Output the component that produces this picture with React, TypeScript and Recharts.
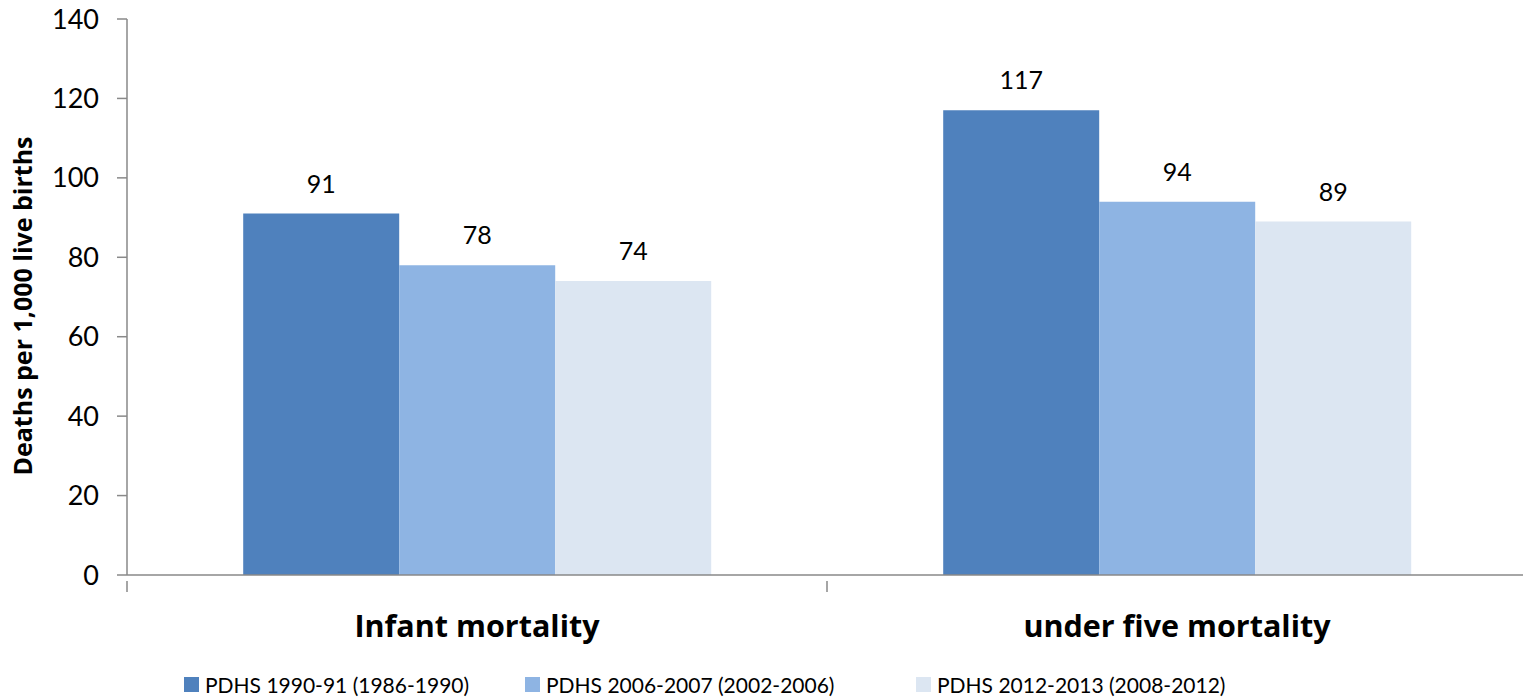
import React from 'react'
import { BarChart, Bar, XAxis, YAxis, Legend, LabelList, Label } from 'recharts'

const categories = ['Infant mortality', 'under five mortality']
const pdhs1990 = [91, 117]
const pdhs2006 = [78, 94]
const pdhs2012 = [74, 89]
const seriesNames = [
  'PDHS 1990-91 (1986-1990)',
  'PDHS 2006-2007 (2002-2006)',
  'PDHS 2012-2013 (2008-2012)',
]
const yTicks = [0, 20, 40, 60, 80, 100, 120, 140]

const COLORS = ['#4F81BD', '#8EB4E3', '#DCE6F2']
const AXIS = '#898989'
const FONT = 'Lato, "Open Sans", sans-serif'
const BOLD_FONT = '"Open Sans", Lato, sans-serif'

const CHART_W = 1528
const CHART_H = 699
const Y_AXIS_W = 127
const MARGIN = { top: 19, right: 1, bottom: 0, left: 0 }
const BAND = (CHART_W - Y_AXIS_W - MARGIN.left - MARGIN.right) / categories.length

const data = categories.map((name, i) => ({
  name,
  s1: pdhs1990[i],
  s2: pdhs2006[i],
  s3: pdhs2012[i],
}))

const legendWidths = [341, 391, 'auto']

function CategoryTick(props: any) {
  const { x, y, payload } = props
  const half = BAND / 2
  return (
    <g>
      {payload.index === 0 && (
        <line x1={x - half} x2={x - half} y1={y} y2={y + 11} stroke={AXIS} strokeWidth={1.5} />
      )}
      <line x1={x + half} x2={x + half} y1={y} y2={y + 11} stroke={AXIS} strokeWidth={1.5} />
      <text
        x={x}
        y={y + 56}
        textAnchor="middle"
        fontFamily={BOLD_FONT}
        fontWeight={700}
        fontSize={30.5}
        fill="#000"
      >
        {payload.value}
      </text>
    </g>
  )
}

function LegendRow() {
  return (
    <div
      style={{
        height: 54,
        paddingTop: 25,
        boxSizing: 'border-box',
        display: 'flex',
        paddingLeft: 184,
        fontFamily: FONT,
        fontSize: 21,
        color: '#000',
        lineHeight: '24px',
      }}
    >
      {seriesNames.map((n, i) => (
        <div key={n} style={{ display: 'flex', alignItems: 'center', width: legendWidths[i] }}>
          <span
            style={{
              display: 'inline-block',
              width: 15,
              height: 15,
              background: COLORS[i],
              marginRight: 6,
            }}
          />
          <span>{n}</span>
        </div>
      ))}
    </div>
  )
}

export default function App() {
  return (
    <div
      style={{
        position: 'absolute',
        left: 0,
        top: 0,
        width: 1523,
        height: 699,
        overflow: 'hidden',
        background: '#fff',
      }}
    >
      <BarChart
        width={CHART_W}
        height={CHART_H}
        data={data}
        margin={MARGIN}
        barCategoryGap="16.6%"
        barGap={0}
      >
        <XAxis
          dataKey="name"
          height={70}
          axisLine={{ stroke: AXIS, strokeWidth: 1.5 }}
          tickLine={false}
          tickMargin={0}
          tick={<CategoryTick />}
          interval={0}
        />
        <YAxis
          width={Y_AXIS_W}
          domain={[0, 140]}
          ticks={yTicks}
          axisLine={{ stroke: AXIS, strokeWidth: 1.5 }}
          tickLine={{ stroke: AXIS, strokeWidth: 1.5 }}
          tickSize={10}
          tickMargin={18}
          tick={{ fontFamily: FONT, fontSize: 27, fill: '#000' }}
        >
          <Label
            content={({ viewBox }: any) => {
              const cy = viewBox.y + viewBox.height / 2 + 9
              return (
                <text
                  x={22}
                  y={cy}
                  transform={`rotate(-90, 22, ${cy})`}
                  textAnchor="middle"
                  dominantBaseline="central"
                  fontFamily={BOLD_FONT}
                  fontWeight={700}
                  fontSize={25}
                  fill="#000"
                >
                  Deaths per 1,000 live births
                </text>
              )
            }}
          />
        </YAxis>
        <Legend verticalAlign="bottom" content={<LegendRow />} wrapperStyle={{ left: 0, width: '100%' }} />
        {['s1', 's2', 's3'].map((k, i) => (
          <Bar key={k} dataKey={k} name={seriesNames[i]} fill={COLORS[i]} isAnimationActive={false}>
            <LabelList
              dataKey={k}
              position="top"
              offset={21}
              fontFamily={FONT}
              fontSize={25}
              fill="#000"
            />
          </Bar>
        ))}
      </BarChart>
    </div>
  )
}
